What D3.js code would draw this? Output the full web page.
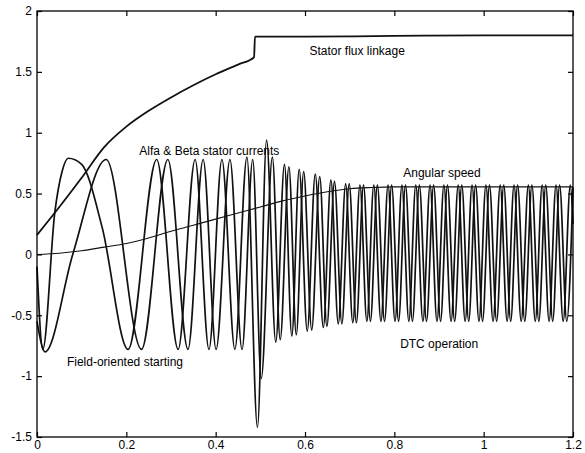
<!DOCTYPE html>
<html>
<head>
<meta charset="utf-8">
<script src="https://cdn.jsdelivr.net/npm/d3@7"></script>
<style>
  body { margin: 0; background: #fff; }
  svg text { font-family: "Liberation Sans", Arial, sans-serif; fill: #000; }
</style>
</head>
<body>
<div id="svg-area"></div>
<script>
// tick values / labels
var xTicks = [0, 0.2, 0.4, 0.6, 0.8, 1, 1.2];
var xTickLabels = ["0", "0.2", "0.4", "0.6", "0.8", "1", "1.2"];
var yTicks = [-1.5, -1, -0.5, 0, 0.5, 1, 1.5, 2];
var yTickLabels = ["-1.5", "-1", "-0.5", "0", "0.5", "1", "1.5", "2"];

// stator flux linkage (time, value)
var fluxT = [0, 0.05, 0.1, 0.15, 0.2, 0.25, 0.3, 0.35, 0.4, 0.45, 0.486, 0.488, 0.6, 0.8, 1.0, 1.2];
var fluxV = [0.16, 0.39, 0.63, 0.88, 1.05, 1.18, 1.29, 1.39, 1.48, 1.56, 1.62, 1.79, 1.79, 1.795, 1.8, 1.8];

// angular speed
var speedT = [0, 0.05, 0.1, 0.15, 0.2, 0.25, 0.3, 0.35, 0.4, 0.45, 0.5, 0.55, 0.6, 0.65, 0.7, 0.75, 0.8, 0.9, 1.0, 1.1, 1.2];
var speedV = [0, 0.01, 0.03, 0.06, 0.09, 0.135, 0.19, 0.24, 0.29, 0.34, 0.39, 0.44, 0.48, 0.515, 0.54, 0.55, 0.555, 0.555, 0.555, 0.555, 0.555];

// alfa stator current: turning points
var alfaT = [0, 0.013, 0.04, 0.056, 0.07, 0.1, 0.146, 0.204, 0.268, 0.316, 0.354, 0.385, 0.414, 0.443, 0.47, 0.4935, 0.514,
  0.5345, 0.554, 0.5705, 0.587, 0.605, 0.623, 0.641, 0.658, 0.6745, 0.691, 0.707, 0.723, 0.7385, 0.754, 0.770, 0.786,
  0.8015, 0.817, 0.8325, 0.848, 0.864, 0.880, 0.8955, 0.911, 0.927, 0.943, 0.9585, 0.974, 0.9895, 1.005, 1.021, 1.037,
  1.0525, 1.068, 1.084, 1.100, 1.1155, 1.131, 1.1465, 1.162, 1.178, 1.194, 1.2];
var alfaV = [-0.1, -0.78, 0.35, 0.68, 0.79, 0.74, 0.22, -0.78, 0.78, -0.78, 0.78, -0.78, 0.78, -0.78, 0.8, -1.42, 0.94,
  -0.72, 0.74, -0.67, 0.70, -0.63, 0.66, -0.60, 0.61, -0.57, 0.58, -0.56, 0.57, -0.55, 0.57, -0.55, 0.57,
  -0.55, 0.57, -0.55, 0.57, -0.55, 0.57, -0.55, 0.57, -0.55, 0.57, -0.55, 0.57, -0.55, 0.57, -0.55, 0.57,
  -0.55, 0.57, -0.55, 0.57, -0.55, 0.57, -0.55, 0.57, -0.55, 0.57, 0.25];

// beta stator current
var betaT = [0, 0.018, 0.08, 0.155, 0.234, 0.293, 0.338, 0.372, 0.401, 0.432, 0.459, 0.483, 0.502, 0.527,
  0.5445, 0.564, 0.5805, 0.597, 0.615, 0.633, 0.649, 0.666, 0.6825, 0.699, 0.715, 0.731, 0.7465, 0.762, 0.778, 0.794,
  0.8095, 0.825, 0.8405, 0.856, 0.872, 0.888, 0.9035, 0.919, 0.935, 0.951, 0.9665, 0.982, 0.9975, 1.013, 1.029, 1.045,
  1.0605, 1.076, 1.092, 1.108, 1.1235, 1.139, 1.1545, 1.170, 1.186, 1.2];
var betaV = [-0.55, -0.8, 0.0, 0.78, -0.78, 0.78, -0.78, 0.78, -0.78, 0.78, -0.78, 0.78, -1.02, 0.8,
  -0.70, 0.72, -0.66, 0.68, -0.62, 0.64, -0.59, 0.60, -0.57, 0.58, -0.56, 0.57, -0.55, 0.57, -0.55, 0.57,
  -0.55, 0.57, -0.55, 0.57, -0.55, 0.57, -0.55, 0.57, -0.55, 0.57, -0.55, 0.57, -0.55, 0.57, -0.55, 0.57,
  -0.55, 0.57, -0.55, 0.57, -0.55, 0.57, -0.55, 0.57, -0.55, 0.55];

// text annotations
var notes = [
  { text: "Stator flux linkage", t: 0.61, v: 1.64 },
  { text: "Alfa & Beta stator currents", t: 0.229, v: 0.82 },
  { text: "Angular speed", t: 0.82, v: 0.64 },
  { text: "Field-oriented starting", t: 0.067, v: -0.92 },
  { text: "DTC operation", t: 0.813, v: -0.77 }
];

var zip = function(ts, vs) { return ts.map(function(t, i) { return { t: t, v: vs[i] }; }); };

//SVG設定
var width = 585;
var height = 453;
var margin = { top: 11, bottom: 16, left: 37, right: 12 };
var svg = d3.select("#svg-area").append("svg").attr("width", width).attr("height", height);

var xScale = d3.scaleLinear().domain([0, 1.2]).range([margin.left, width - margin.right]);
var yScale = d3.scaleLinear().domain([-1.5, 2]).range([height - margin.bottom, margin.top]);

var line = d3.line()
  .x(function(d) { return xScale(d.t); })
  .y(function(d) { return yScale(d.v); })
  .curve(d3.curveMonotoneX);

// traces
svg.append("path").datum(zip(speedT, speedV))
  .attr("fill", "none").attr("stroke", "#111").attr("stroke-width", 1.1).attr("d", line);
svg.append("path").datum(zip(fluxT, fluxV))
  .attr("fill", "none").attr("stroke", "#111").attr("stroke-width", 1.8).attr("d", line);
svg.append("path").datum(zip(alfaT, alfaV))
  .attr("fill", "none").attr("stroke", "#111").attr("stroke-width", 1.7).attr("d", line);
svg.append("path").datum(zip(betaT, betaV))
  .attr("fill", "none").attr("stroke", "#111").attr("stroke-width", 1.7).attr("d", line);

// frame
svg.append("rect")
  .attr("x", xScale(0)).attr("y", yScale(2))
  .attr("width", xScale(1.2) - xScale(0)).attr("height", yScale(-1.5) - yScale(2))
  .attr("fill", "none").attr("stroke", "#000").attr("stroke-width", 1.3);

// axes, ticks pointing inward
var axisB = d3.axisBottom(xScale).tickValues(xTicks)
  .tickFormat(function(d, i) { return xTickLabels[i]; }).tickSizeInner(-5).tickSizeOuter(0).tickPadding(3);
var axisT = d3.axisTop(xScale).tickValues(xTicks).tickFormat("").tickSizeInner(-5).tickSizeOuter(0);
var axisL = d3.axisLeft(yScale).tickValues(yTicks)
  .tickFormat(function(d, i) { return yTickLabels[i]; }).tickSizeInner(-5).tickSizeOuter(0).tickPadding(5);
var axisR = d3.axisRight(yScale).tickValues(yTicks).tickFormat("").tickSizeInner(-5).tickSizeOuter(0);

svg.append("g").attr("transform", "translate(0," + yScale(-1.5) + ")").call(axisB);
svg.append("g").attr("transform", "translate(0," + yScale(2) + ")").call(axisT);
svg.append("g").attr("transform", "translate(" + xScale(0) + ",0)").call(axisL);
svg.append("g").attr("transform", "translate(" + xScale(1.2) + ",0)").call(axisR);

svg.selectAll(".domain").remove();
svg.selectAll(".tick line").attr("stroke", "#000").attr("stroke-width", 1.2);
svg.selectAll(".tick text").attr("font-size", "12px").attr("font-family", "'Liberation Sans', Arial, sans-serif").attr("fill", "#000");

// annotations
svg.append("g").selectAll("text")
  .data(notes)
  .enter()
  .append("text")
  .attr("x", function(d) { return xScale(d.t); })
  .attr("y", function(d) { return yScale(d.v); })
  .attr("font-size", "12px")
  .text(function(d) { return d.text; });
</script>
</body>
</html>
